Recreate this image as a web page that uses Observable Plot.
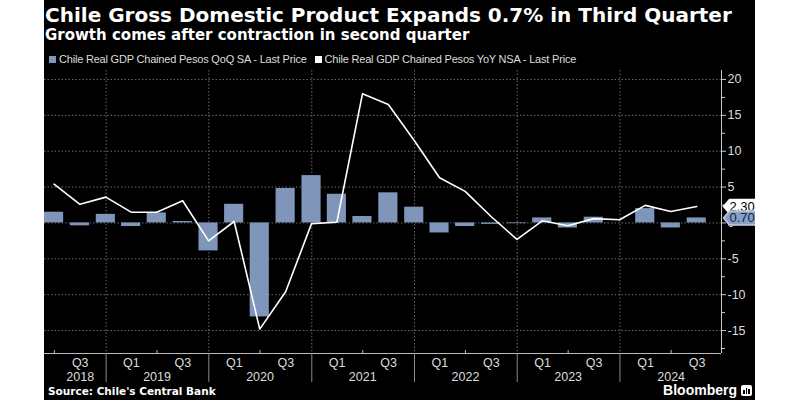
<!DOCTYPE html>
<html>
<head>
<meta charset="utf-8">
<script src="https://cdn.jsdelivr.net/npm/d3@7"></script>
<script src="https://cdn.jsdelivr.net/npm/@observablehq/plot@0.6"></script>
<style>
html,body{margin:0;padding:0;background:#fff;}
#panel{position:absolute;left:44px;top:0;width:711px;height:400px;background:#000;overflow:hidden;font-family:"Liberation Sans",Arial,sans-serif;color:#fff;}
#title{position:absolute;left:1px;top:5px;font-family:"DejaVu Sans",sans-serif;font-size:20px;font-weight:bold;line-height:20.5px;white-space:nowrap;}
#subtitle{position:absolute;left:1px;top:28px;font-family:"DejaVu Sans",sans-serif;font-size:15px;font-weight:bold;line-height:15.5px;white-space:nowrap;}
#legend{position:absolute;left:5px;top:53px;font-size:11px;line-height:12px;letter-spacing:-0.2px;color:#ddd;white-space:nowrap;}
#legend span.item{margin-right:8px;}
.sw{display:inline-block;width:7px;height:7px;margin-right:3px;}
#chart{position:absolute;left:0;top:64px;}
#source{position:absolute;left:4px;top:385px;font-family:"DejaVu Sans",sans-serif;font-size:10.5px;font-weight:bold;line-height:12px;color:#fff;white-space:nowrap;}
#brand{position:absolute;right:3px;top:383px;font-size:14px;font-weight:bold;line-height:15px;color:#fff;white-space:nowrap;}
#brand .ico{display:inline-block;width:11px;height:11px;background:#fff;border-radius:2px;margin-left:4px;vertical-align:-1px;position:relative;}
#brand .ico i{position:absolute;bottom:2px;width:1.5px;background:#000;}
</style>
</head>
<body>
<div id="panel">
  <div id="title">Chile Gross Domestic Product Expands 0.7% in Third Quarter</div>
  <div id="subtitle">Growth comes after contraction in second quarter</div>
  <div id="legend"></div>
  <div id="chart"></div>
  <div id="source">Source: Chile's Central Bank</div>
  <div id="brand">Bloomberg<span class="ico"><i style="left:2px;height:4px"></i><i style="left:4.5px;height:6px"></i><i style="left:7px;height:5px"></i></span></div>
</div>
<script>
// ---- data ----
const quarterEnds = ["2018-06-30","2018-09-30","2018-12-31","2019-03-31","2019-06-30","2019-09-30","2019-12-31",
  "2020-03-31","2020-06-30","2020-09-30","2020-12-31","2021-03-31","2021-06-30","2021-09-30","2021-12-31",
  "2022-03-31","2022-06-30","2022-09-30","2022-12-31","2023-03-31","2023-06-30","2023-09-30","2023-12-31",
  "2024-03-31","2024-06-30","2024-09-30"];
const qoqSA = [1.5, -0.4, 1.2, -0.5, 1.4, 0.2, -3.9, 2.6, -13.1, 4.8, 6.6, 4.0, 0.9, 4.2, 2.2,
  -1.4, -0.5, -0.2, -0.1, 0.7, -0.7, 0.8, 0.0, 2.0, -0.7, 0.7];
const yoyNSA = [5.4, 2.6, 3.6, 1.5, 1.5, 3.1, -2.5, 0.2, -14.8, -9.6, -0.1, 0.1, 18.0, 16.5, 11.5,
  6.3, 4.4, 0.9, -2.3, 0.3, -0.4, 0.6, 0.45, 2.45, 1.6, 2.3];
const seriesNames = ["Chile Real GDP Chained Pesos QoQ SA - Last Price", "Chile Real GDP Chained Pesos YoY NSA - Last Price"];
const yTicks = [-15, -10, -5, 0, 5, 10, 15, 20];
const yMinorTicks = [-17.5, -12.5, -7.5, -2.5, 2.5, 7.5, 12.5, 17.5];
const halfLabelDates = ["2018-10-01","2019-04-01","2019-10-01","2020-04-01","2020-10-01","2021-04-01","2021-10-01",
  "2022-04-01","2022-10-01","2023-04-01","2023-10-01","2024-04-01","2024-10-01"];
const halfLabels = ["Q3","Q1","Q3","Q1","Q3","Q1","Q3","Q1","Q3","Q1","Q3","Q1","Q3"];
const yearLabelDates = ["2018-10-01","2019-07-01","2020-07-01","2021-07-01","2022-07-01","2023-07-01","2024-07-01"];
const yearLabels = ["2018","2019","2020","2021","2022","2023","2024"];
const yearStarts = ["2019-01-01","2020-01-01","2021-01-01","2022-01-01","2023-01-01","2024-01-01"];
const midYears = ["2018-07-01","2019-07-01","2020-07-01","2021-07-01","2022-07-01","2023-07-01","2024-07-01"];
const xDomain = ["2018-05-27","2024-12-27"];
const yDomain = [-18.2, 21.25];

// ---- styles ----
const barColor = "#7f95ba";
const lineColor = "#ffffff";
const gridColor = "#6a6a6a";
const textColor = "#dcdcdc";

const D = s => new Date(s + "T00:00:00Z");
const DAY = 864e5;
const rows = quarterEnds.map((q, i) => ({date: D(q), qoq: qoqSA[i], yoy: yoyNSA[i]}));
const halfRows = halfLabelDates.map((d, i) => ({date: D(d), label: halfLabels[i]}));
const yearRows = yearLabelDates.map((d, i) => ({date: D(d), label: yearLabels[i]}));
const last = rows[rows.length - 1];
const badges = [
  {v: last.yoy, label: last.yoy.toFixed(2), fill: "#ffffff", stroke: "#ffffff", text: "#000000"},
  {v: last.qoq, label: last.qoq.toFixed(2), fill: "#8a9fc4", stroke: "#c3cee3", text: "#14264a"}
];

// legend
const legend = document.getElementById("legend");
[barColor, lineColor].forEach((c, i) => {
  const s = document.createElement("span");
  s.className = "item";
  s.innerHTML = `<span class="sw" style="background:${c}"></span>${seriesNames[i]}`;
  legend.appendChild(s);
});

const badgeSymbol = {
  draw(ctx) {
    ctx.moveTo(1, 0);
    ctx.lineTo(7, -7);
    ctx.lineTo(45, -7);
    ctx.lineTo(45, 7);
    ctx.lineTo(7, 7);
    ctx.closePath();
  }
};

const chart = Plot.plot({
  width: 711,
  height: 319,
  marginLeft: 0,
  marginRight: 34,
  marginTop: 6,
  marginBottom: 30,
  style: {background: "transparent", color: textColor, fontFamily: "'Liberation Sans', Arial, sans-serif", fontSize: "12.5px", overflow: "visible"},
  x: {type: "utc", domain: xDomain.map(D), axis: null},
  y: {domain: yDomain, axis: null},
  marks: [
    Plot.gridY(yTicks, {stroke: gridColor, strokeOpacity: 1, strokeDasharray: "1.5,2"}),
    Plot.gridX(yearStarts.map(D), {stroke: gridColor, strokeOpacity: 1, strokeDasharray: "1.5,2"}),
    Plot.rectY(rows, {
      x1: d => new Date(+d.date - 34 * DAY),
      x2: d => new Date(+d.date + 34 * DAY),
      y: "qoq", fill: barColor
    }),
    Plot.line(rows, {x: "date", y: "yoy", stroke: lineColor, strokeWidth: 1.6}),
    // x axis line and ticks
    Plot.ruleY([yDomain[0]], {stroke: "#bbbbbb", strokeWidth: 1}),
    Plot.axisX(yearStarts.map(D), {tickSize: 29, tickFormat: () => "", stroke: "#8a8a8a"}),
    Plot.ruleX(midYears.map(D), {y1: yDomain[0], y2: yDomain[0], insetTop: -3, stroke: "#bbbbbb"}),
    Plot.text(halfRows, {x: "date", text: "label", frameAnchor: "bottom", dy: 9, lineAnchor: "middle", fill: textColor, fontSize: 12.5}),
    Plot.text(yearRows, {x: "date", text: "label", frameAnchor: "bottom", dy: 23, lineAnchor: "middle", fill: textColor, fontSize: 12.5}),
    // y axis on the right
    Plot.ruleX([D(xDomain[1])], {stroke: "#cccccc", strokeWidth: 1}),
    Plot.axisY(yMinorTicks, {anchor: "right", tickSize: 3, tickFormat: () => "", stroke: "#cccccc"}),
    Plot.axisY(yTicks, {anchor: "right", tickSize: 4, tickPadding: 2, stroke: "#cccccc", fill: textColor, fontSize: 12.5,
      tickFormat: d => (d < 0 ? "-" + (-d) : String(d))}),
    // last value badges
    Plot.dot([badges[0]], {y: "v", frameAnchor: "right", symbol: badgeSymbol, fill: badges[0].fill, stroke: badges[0].stroke, dx: 1}),
    Plot.text([badges[0]], {y: "v", frameAnchor: "right", text: "label", textAnchor: "start", dx: 8, fill: badges[0].text, fontSize: 13}),
    Plot.dot([badges[1]], {y: "v", frameAnchor: "right", symbol: badgeSymbol, fill: badges[1].fill, stroke: badges[1].stroke, dx: 1}),
    Plot.text([badges[1]], {y: "v", frameAnchor: "right", text: "label", textAnchor: "start", dx: 8, fill: badges[1].text, fontSize: 13})
  ]
});
document.getElementById("chart").appendChild(chart);
</script>
</body>
</html>
